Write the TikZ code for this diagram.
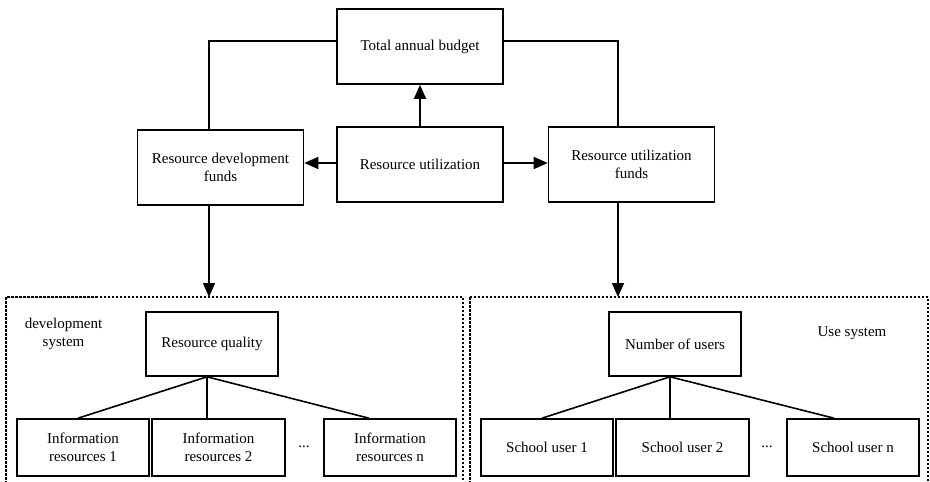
\documentclass[tikz,border=0pt]{standalone}
\usepackage{fontspec}
\setmainfont{Liberation Serif}
\usetikzlibrary{arrows.meta}

\tikzset{
  box/.style={draw, line width=1.6pt, align=center, inner sep=2pt},
  bigbox/.style={box, minimum width=166pt, minimum height=75pt},
  midbox/.style={box, minimum width=132pt, minimum height=64pt},
  leafbox/.style={box, minimum width=132pt, minimum height=57pt},
  link/.style={line width=1.6pt},
  arrow/.style={line width=1.6pt, -{Triangle[length=14pt,width=12pt]}},
  sysframe/.style={line width=1.3pt, dash pattern=on 2.5pt off 1.5pt},
}

\begin{document}
\begin{tikzpicture}[x=1pt,y=-1pt,font=\fontsize{15}{18}\selectfont]
\useasboundingbox (0,0) rectangle (930,482);

% funds
\node[bigbox] (budget) at (420,46.5) {Total annual budget};
\node[bigbox] (util) at (420,164.5) {Resource utilization};
\node[bigbox] (devfunds) at (220.5,167.5) {Resource development\\funds};
\node[bigbox] (usefunds) at (631.5,164.5) {Resource utilization\\funds};

% the two systems
\coordinate (devin) at (209,297);
\coordinate (usein) at (618,297);
\draw[sysframe] (6,297) rectangle (463,490);
\draw[sysframe] (470,297) rectangle (928,490);

\node[align=center] (devlabel) at (63.5,333.5) {development\\system};
\node (uselabel) at (852,333) {Use system};

\node[midbox] (quality) at (212,344) {Resource quality};
\node[midbox] (users) at (675,344) {Number of users};

\node[leafbox] (info1) at (83,447.5) {Information\\resources 1};
\node[leafbox, minimum width=133pt] (info2) at (218.5,447.5) {Information\\resources 2};
\node[leafbox] (infon) at (390,447.5) {Information\\resources n};
\node (devdots) at (304,447) {...};

\node[leafbox] (school1) at (547,447.5) {School user 1};
\node[leafbox, minimum width=133pt] (school2) at (682.5,447.5) {School user 2};
\node[leafbox] (schooln) at (853,447.5) {School user n};
\node (usedots) at (767,447) {...};

% connectors
\draw[arrow] (util.north) -- (budget.south);
\draw[arrow] ([yshift=1.5pt]util.west) -- ([yshift=1.5pt]util.west -| devfunds.east);
\draw[arrow] ([yshift=1.5pt]util.east) -- ([yshift=1.5pt]util.east -| usefunds.west);
\draw[link] ([yshift=5.5pt]budget.west) -| (devfunds.north -| devin);
\draw[link] ([yshift=5.5pt]budget.east) -| (usefunds.north -| usein);
\draw[arrow] (devfunds.south -| devin) -- (devin);
\draw[arrow] (usefunds.south -| usein) -- (usein);

\coordinate (qfork) at ([xshift=-5pt]quality.south);
\draw[link] (qfork) -- ([xshift=-5pt]info1.north);
\draw[link] (qfork) -- (info2.north -| qfork);
\draw[link] (qfork) -- ([xshift=-21pt]infon.north);

\coordinate (ufork) at ([xshift=-5pt]users.south);
\draw[link] (ufork) -- ([xshift=-5pt]school1.north);
\draw[link] (ufork) -- (school2.north -| ufork);
\draw[link] (ufork) -- ([xshift=-19pt]schooln.north);
\end{tikzpicture}
\end{document}
